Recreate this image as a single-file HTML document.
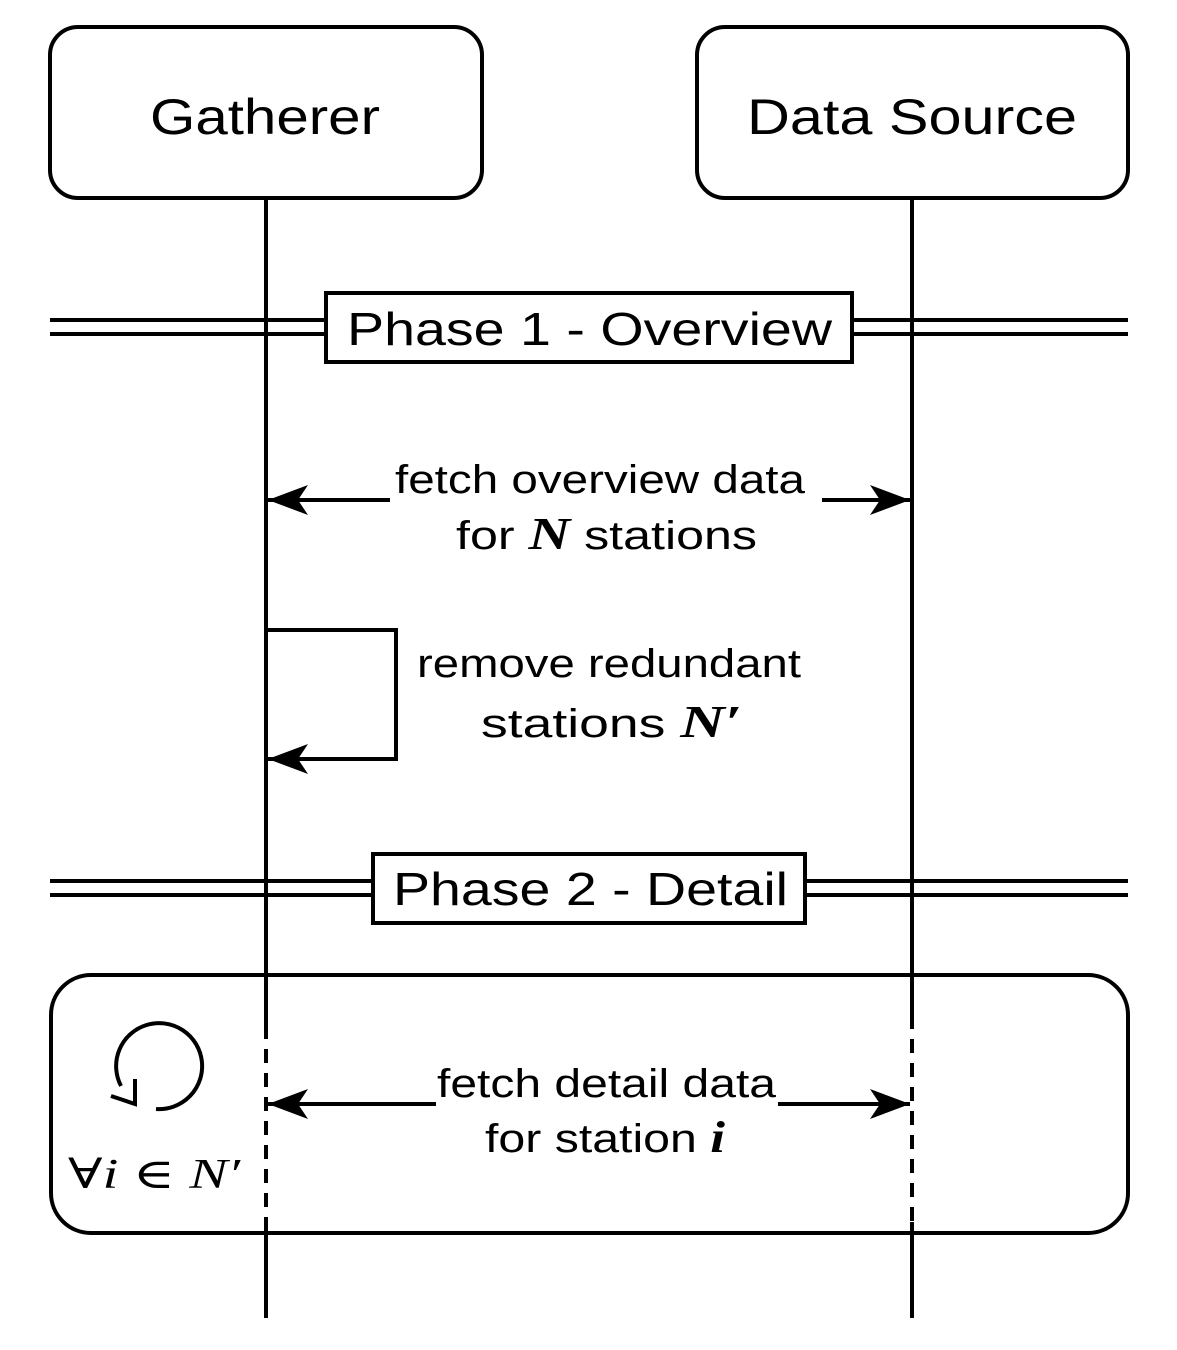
<!DOCTYPE html>
<html><head><meta charset="utf-8"><style>html,body{margin:0;padding:0;background:#fff}svg{display:block}</style></head>
<body>
<svg width="1177" height="1350" viewBox="0 0 1177 1350" xmlns="http://www.w3.org/2000/svg" font-family="Liberation Sans, sans-serif">
<defs>
<marker id="ah" viewBox="0 0 40 30" refX="40" refY="15" markerWidth="40" markerHeight="30" markerUnits="userSpaceOnUse" orient="auto">
<path d="M0,0 L40,15 L0,30 L10,15 Z" fill="#000"/>
</marker>
</defs>
<g fill="none" stroke="#000" stroke-width="4">
<rect x="50" y="27" width="432" height="171" rx="28"/>
<rect x="697" y="27" width="431" height="171" rx="28"/>
<line x1="266" y1="198" x2="266" y2="1025"/>
<line x1="266" y1="1025" x2="266" y2="1222" stroke-dasharray="14,10"/>
<line x1="266" y1="1222" x2="266" y2="1318"/>
<line x1="912" y1="198" x2="912" y2="1015"/>
<line x1="912" y1="1015" x2="912" y2="1222" stroke-dasharray="14,10"/>
<line x1="912" y1="1222" x2="912" y2="1318"/>
<line x1="50" y1="320" x2="1128" y2="320"/>
<line x1="50" y1="334" x2="1128" y2="334"/>
<line x1="50" y1="881" x2="1128" y2="881"/>
<line x1="50" y1="895" x2="1128" y2="895"/>
<rect x="51" y="975" width="1077" height="258" rx="40"/>
<line x1="390" y1="500" x2="268" y2="500" marker-end="url(#ah)"/>
<line x1="822" y1="500" x2="910" y2="500" marker-end="url(#ah)"/>
<polyline points="266,630 396,630 396,759 268,759" marker-end="url(#ah)"/>
<line x1="436" y1="1104" x2="268" y2="1104" marker-end="url(#ah)"/>
<line x1="778" y1="1104" x2="910" y2="1104" marker-end="url(#ah)"/>
<path d="M156,1109 A43,43 0 1 0 121,1086"/>
<path d="M135,1079 L135,1104 L111,1096"/>
</g>
<rect x="326" y="293" width="526" height="69" fill="#fff" stroke="#000" stroke-width="4"/>
<rect x="373" y="854" width="432" height="69" fill="#fff" stroke="#000" stroke-width="4"/>
<g font-size="50" fill="#000" lengthAdjust="spacingAndGlyphs">
<text x="150" y="134" textLength="230" lengthAdjust="spacingAndGlyphs">Gatherer</text>
<text x="747" y="134" textLength="330" lengthAdjust="spacingAndGlyphs">Data Source</text>
</g>
<g font-size="46" fill="#000">
<text x="347" y="345" textLength="485" lengthAdjust="spacingAndGlyphs">Phase 1 - Overview</text>
<text x="393" y="905" textLength="395" lengthAdjust="spacingAndGlyphs">Phase 2 - Detail</text>
</g>
<g font-size="40" fill="#000">
<text x="395" y="493" textLength="410" lengthAdjust="spacingAndGlyphs">fetch overview data</text>
<text x="456" y="549" textLength="301" lengthAdjust="spacingAndGlyphs">for <tspan font-family="Liberation Serif, serif" font-style="italic" font-weight="bold" font-size="46">N</tspan> stations</text>
<text x="417" y="677" textLength="384" lengthAdjust="spacingAndGlyphs">remove redundant</text>
<text x="481" y="737" textLength="261" lengthAdjust="spacingAndGlyphs">stations <tspan font-family="Liberation Serif, serif" font-style="italic" font-weight="bold" font-size="46">N′</tspan></text>
<text x="437" y="1097" textLength="339" lengthAdjust="spacingAndGlyphs">fetch detail data</text>
<text x="485" y="1152" textLength="240" lengthAdjust="spacingAndGlyphs">for station <tspan font-family="Liberation Serif, serif" font-style="italic" font-weight="bold" font-size="44">i</tspan></text>
<text x="68" y="1188" font-family="Liberation Serif, DejaVu Serif, serif" font-size="42" textLength="172" lengthAdjust="spacingAndGlyphs">∀<tspan font-style="italic">i</tspan> ∈ <tspan font-style="italic">N′</tspan></text>
</g>
</svg>
</body></html>
